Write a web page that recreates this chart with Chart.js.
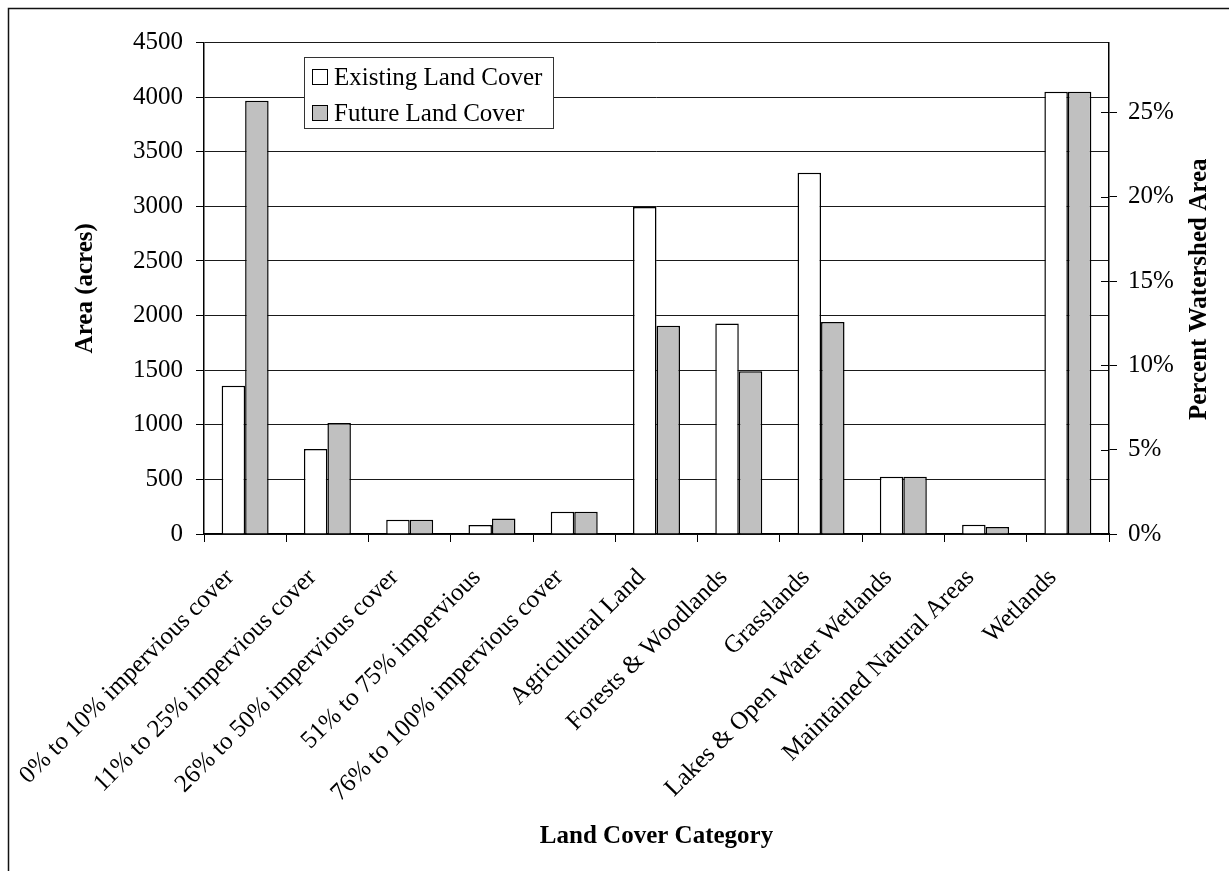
<!DOCTYPE html>
<html>
<head>
<meta charset="utf-8">
<script src="https://cdn.jsdelivr.net/npm/chart.js@4/dist/chart.umd.min.js"></script>
<style>
  html, body { margin: 0; padding: 0; background: #fff; }
  #wrap { position: relative; width: 1229px; height: 871px; overflow: hidden; }
  canvas { display: block; }
  #legend {
    position: absolute; left: 304px; top: 57px; width: 250px; height: 72px;
    box-sizing: border-box; border: 1px solid #333; background: #fff;
    font: 25px "Liberation Serif", "Times New Roman", serif; color: #000;
  }
  #legend .row { position: absolute; left: 0; height: 36px; line-height: 36px; white-space: nowrap; }
  #legend .box {
    position: absolute; left: 7px; top: 10px; width: 16px; height: 16px;
    box-sizing: border-box; border: 1.5px solid #000;
  }
  #legend .lbl { position: absolute; left: 29px; top: 0; }
</style>
</head>
<body>
<div id="wrap">
  <canvas id="c" width="1229" height="871"></canvas>
  <div id="legend"></div>
</div>
<script>
// Land cover categories (x axis)
const categories = [
  '0% to 10% impervious cover',
  '11% to 25% impervious cover',
  '26% to 50% impervious cover',
  '51% to 75% impervious',
  '76% to 100% impervious cover',
  'Agricultural Land',
  'Forests & Woodlands',
  'Grasslands',
  'Lakes & Open Water Wetlands',
  'Maintained Natural Areas',
  'Wetlands'
];

// Area in acres for each category
const existingAcres = [1357, 778, 131, 82, 204, 2993, 1928, 3307, 525, 85, 4049];
const futureAcres   = [3966, 1016, 131, 143, 204, 1907, 1489, 1941, 525, 64, 4049];

const seriesNames = ['Existing Land Cover', 'Future Land Cover'];

// Left axis (acres) range and step
const areaMin = 0;
const areaMax = 4500;
const areaStep = 500;

// Right axis (percent of watershed) step
const percentStep = 5;

// Whole watershed area: the right axis shows the left axis as a share of it
const watershedAcres = existingAcres.reduce((a, b) => a + b, 0);
const percentMax = areaMax / watershedAcres * 100;

const FONT = '"Liberation Serif", "Times New Roman", serif';
const BLACK = '#000';

// Outer frame, inner half of the right-axis ticks, and the right-axis title
const decorations = {
  id: 'decorations',
  afterDraw(chart) {
    const ctx = chart.ctx;
    const area = chart.chartArea;
    ctx.save();
    ctx.strokeStyle = '#111';
    ctx.lineWidth = 1.5;
    ctx.beginPath();
    ctx.moveTo(8.5, chart.height);
    ctx.lineTo(8.5, 8.5);
    ctx.lineTo(chart.width, 8.5);
    ctx.stroke();

    const y1 = chart.scales.y1;
    ctx.strokeStyle = BLACK;
    ctx.lineWidth = 1;
    y1.ticks.forEach(t => {
      const y = Math.round(y1.getPixelForValue(t.value)) + 0.5;
      ctx.beginPath();
      ctx.moveTo(area.right - 8, y);
      ctx.lineTo(area.right, y);
      ctx.stroke();
    });

    ctx.fillStyle = BLACK;
    ctx.font = 'bold 25px ' + FONT;
    ctx.textAlign = 'center';
    ctx.textBaseline = 'middle';
    ctx.translate(1200, (area.top + area.bottom) / 2 + 1);
    ctx.rotate(-Math.PI / 2);
    ctx.fillText('Percent Watershed Area', 0, 0);
    ctx.restore();
  }
};

const chart = new Chart(document.getElementById('c'), {
  type: 'bar',
  data: {
    labels: categories,
    datasets: [
      {
        label: seriesNames[0],
        data: existingAcres,
        backgroundColor: '#ffffff',
        borderColor: BLACK,
        borderWidth: 1.5,
        categoryPercentage: 0.571,
        barPercentage: 1.0,
        yAxisID: 'y'
      },
      {
        label: seriesNames[1],
        data: futureAcres,
        backgroundColor: '#c0c0c0',
        borderColor: BLACK,
        borderWidth: 1.5,
        categoryPercentage: 0.571,
        barPercentage: 1.0,
        yAxisID: 'y'
      }
    ]
  },
  options: {
    responsive: false,
    devicePixelRatio: 1,
    animation: false,
    layout: { padding: { left: 0, right: 0, top: 42.5, bottom: 0 } },
    plugins: {
      legend: { display: false },
      tooltip: { enabled: false }
    },
    scales: {
      x: {
        offset: true,
        grid: {
          display: true, offset: true, drawOnChartArea: false, drawTicks: true,
          tickLength: 8, color: BLACK, lineWidth: 1
        },
        border: { display: true, color: BLACK, width: 1.5 },
        ticks: {
          autoSkip: false, maxRotation: 45, minRotation: 45, padding: 21,
          labelOffset: -15,
          color: BLACK, font: { family: FONT, size: 25 }
        },
        title: {
          display: true, text: 'Land Cover Category', color: BLACK,
          font: { family: FONT, size: 25, weight: 'bold' },
          padding: { top: 0, bottom: 19 }
        },
        afterFit(scale) { scale.height = 871 - 534; }
      },
      y: {
        position: 'left',
        min: areaMin, max: areaMax,
        grid: { color: '#1a1a1a', lineWidth: 1, tickLength: 8, tickColor: BLACK },
        border: { display: true, color: BLACK, width: 1.5 },
        ticks: {
          stepSize: areaStep, padding: 13, color: BLACK,
          font: { family: FONT, size: 25 },
          callback: v => String(v)
        },
        title: {
          display: true, text: 'Area (acres)', color: BLACK,
          font: { family: FONT, size: 25, weight: 'bold' },
          padding: { top: 71, bottom: 0 }
        },
        afterFit(scale) { scale.width = 204; }
      },
      y1: {
        position: 'right',
        min: 0, max: percentMax,
        grid: { drawOnChartArea: false, tickLength: 8, color: BLACK, lineWidth: 1 },
        border: { display: true, color: BLACK, width: 1.5 },
        ticks: {
          stepSize: percentStep, includeBounds: false, padding: 11, color: BLACK,
          font: { family: FONT, size: 25 },
          callback: v => v + '%'
        },
        afterFit(scale) { scale.width = 1229 - 1109; }
      }
    }
  },
  plugins: [decorations]
});

// Legend built from the datasets
const legendEl = document.getElementById('legend');
chart.data.datasets.forEach((ds, i) => {
  const row = document.createElement('div');
  row.className = 'row';
  row.style.top = (1 + i * 36) + 'px';
  const box = document.createElement('span');
  box.className = 'box';
  box.style.background = ds.backgroundColor;
  const lbl = document.createElement('span');
  lbl.className = 'lbl';
  lbl.textContent = ds.label;
  row.appendChild(box);
  row.appendChild(lbl);
  legendEl.appendChild(row);
});
</script>
</body>
</html>
